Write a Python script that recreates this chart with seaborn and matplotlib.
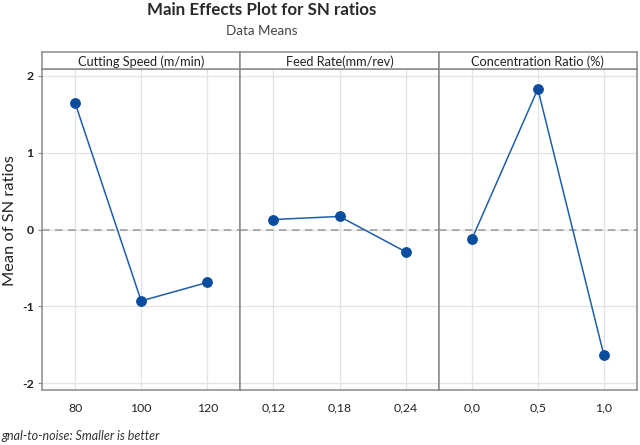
import matplotlib
matplotlib.use("Agg")
import matplotlib.pyplot as plt
import seaborn as sns
import pandas as pd

# ---- data ----
factors = ["Cutting Speed (m/min)", "Feed Rate(mm/rev)", "Concentration Ratio (%)"]
speed_levels = ["80", "100", "120"]
speed_sn = [1.65, -0.93, -0.69]
feed_levels = ["0,12", "0,18", "0,24"]
feed_sn = [0.13, 0.17, -0.29]
conc_levels = ["0,0", "0,5", "1,0"]
conc_sn = [-0.13, 1.83, -1.64]
overall_mean = 0.0
y_ticks = [-2, -1, 0, 1, 2]

sns.set_theme(style="white")
plt.rcParams['font.family'] = ['Lato', 'DejaVu Sans']

fig = plt.figure(figsize=(6.4, 4.45), dpi=100)
W, H = 640, 445
left, right, top, bottom = 42, 637, 69, 390
hdr_top = 52
panel_w = (right - left) / 3

line_col = "#1f5ea8"
mark_col = "#0a4d9e"
frame_col = "#8a8a8a"

levels_list = [speed_levels, feed_levels, conc_levels]
values_list = [speed_sn, feed_sn, conc_sn]

for i in range(3):
    x0 = left + i * panel_w
    ax = fig.add_axes([x0 / W, 1 - bottom / H, panel_w / W, (bottom - top) / H])
    df = pd.DataFrame({"level": levels_list[i], "sn": values_list[i]})
    ax.set_xlim(-0.5, 2.5)
    ax.set_ylim(-2.09, 2.09)
    for k in range(3):
        ax.axvline(k, color="#e3e3e3", lw=0.9, zorder=0)
    for yt in y_ticks:
        ax.axhline(yt, color="#e3e3e3", lw=0.9, zorder=0)
    ax.axhline(overall_mean, color="#9a9a9a", lw=1.1, ls=(0, (5, 3.5)), zorder=1)
    sns.lineplot(data=df, x=range(3), y="sn", ax=ax, color=line_col, lw=1.1,
                 marker="o", markersize=7, markerfacecolor=mark_col,
                 markeredgecolor=mark_col, zorder=3)
    ax.set_xticks(range(3))
    ax.set_xticklabels(levels_list[i], fontsize=8.8, color="#222222")
    ax.set_xlabel("")
    ax.set_ylabel("")
    ax.tick_params(axis="x", length=0, pad=9)
    for s in ax.spines.values():
        s.set_color(frame_col)
        s.set_linewidth(1.1)
    ax.set_yticks(y_ticks)
    if i == 0:
        ax.set_yticklabels([str(t) for t in y_ticks], fontsize=8.8, color="#222222",
                           fontweight="bold")
        ax.tick_params(axis="y", length=3, width=0.8, color=frame_col, left=True, pad=3)
    else:
        ax.set_yticklabels([])
        ax.tick_params(axis="y", length=0)
    # header strip
    hdr = fig.add_axes([x0 / W, 1 - top / H, panel_w / W, (top - hdr_top) / H])
    hdr.set_xticks([]); hdr.set_yticks([])
    for s in hdr.spines.values():
        s.set_color(frame_col)
        s.set_linewidth(1.1)
    hdr.set_facecolor("white")
    hdr.text(0.5, 0.45, factors[i], ha="center", va="center", fontsize=9.2,
             color="#222222", transform=hdr.transAxes)

fig.text(10 / W, 1 - 221 / H, "Mean of SN ratios", rotation=90, ha="center", va="center",
         fontsize=11.8, color="#222222")
fig.text(262 / W, 1 - 10 / H, "Main Effects Plot for SN ratios", ha="center", va="center",
         fontsize=12.2, fontweight="bold", color="#2a2a2a")
fig.text(262 / W, 1 - 31 / H, "Data Means", ha="center", va="center",
         fontsize=9.6, color="#444444")
fig.text(1 / W, 1 - 436 / H, "gnal-to-noise: Smaller is better", ha="left", va="center",
         fontsize=9.0, style="italic", color="#333333")

fig.savefig("out.png", dpi=100)
